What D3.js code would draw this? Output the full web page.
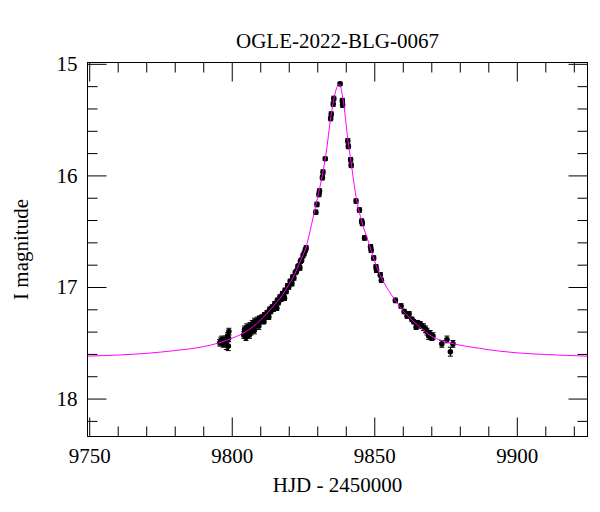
<!DOCTYPE html>
<html>
<head>
<meta charset="utf-8">
<script src="https://cdn.jsdelivr.net/npm/d3@7"></script>
<style>
  body { margin: 0; background: #fff; }
  text { font-family: "Liberation Serif", "Times New Roman", serif; fill: #000; }
</style>
</head>
<body>
<div id="lc_chart"></div>
<script>
var chartTitle = 'OGLE-2022-BLG-0067';
var xTitle = 'HJD - 2450000';
var yTitle = 'I magnitude';

// photometry
var hjd = [9795.8, 9796.2, 9796.6, 9797.0, 9797.4, 9797.8, 9798.1, 9798.5, 9798.8, 9799.0, 9798.9,
  9804.2, 9804.5, 9804.9, 9805.3, 9805.6, 9806.0, 9806.4, 9806.8, 9807.2, 9807.6, 9808.0, 9808.4,
  9808.9, 9809.3, 9809.7, 9810.1, 9810.6, 9811.0, 9811.5, 9811.9, 9812.4, 9812.8, 9813.3, 9813.7,
  9814.2, 9814.6, 9815.1, 9815.5, 9816.0, 9816.4, 9816.9, 9817.3, 9817.8, 9818.2, 9818.7, 9819.1,
  9819.6, 9820.0, 9820.5, 9820.9, 9821.4, 9821.8, 9822.3, 9822.7, 9823.2, 9823.6, 9824.1, 9824.5,
  9825.0, 9825.4, 9825.8, 9826.1,
  9805.0, 9806.2, 9807.9, 9809.5, 9811.3, 9813.0, 9815.8, 9818.5, 9821.1, 9823.9,
  9829.5, 9829.9, 9830.6, 9830.8, 9831.8, 9832.0, 9832.8, 9834.7, 9834.9, 9835.6, 9835.8,
  9838.0, 9838.8, 9838.9, 9840.7, 9840.9, 9841.7, 9841.9, 9843.6, 9844.8, 9845.6, 9845.8,
  9846.6, 9848.7, 9848.9, 9849.8, 9850.6, 9850.8, 9852.1, 9852.5,
  9857.4, 9859.4, 9860.5, 9861.5, 9862.2, 9863.2, 9863.8, 9864.7, 9865.2, 9866.1, 9866.6,
  9867.3, 9868.0, 9868.5, 9869.1, 9869.6, 9870.2, 9870.6, 9873.7, 9875.5, 9876.7, 9877.6];

var imag = [17.50, 17.48, 17.47, 17.51, 17.49, 17.47, 17.52, 17.44, 17.53, 17.40, 17.46,
  17.43, 17.38, 17.42, 17.36, 17.41, 17.39, 17.35, 17.40, 17.33, 17.37, 17.31, 17.35,
  17.30, 17.33, 17.28, 17.31, 17.27, 17.29, 17.25, 17.27, 17.23, 17.25, 17.20, 17.22,
  17.18, 17.20, 17.15, 17.17, 17.12, 17.14, 17.09, 17.11, 17.06, 17.08, 17.03, 17.04,
  16.99, 17.00, 16.95, 16.96, 16.91, 16.92, 16.87, 16.86, 16.82, 16.81, 16.77, 16.76,
  16.72, 16.70, 16.67, 16.65,
  17.45, 17.43, 17.39, 17.35, 17.31, 17.27, 17.19, 17.10, 16.97, 16.83,
  16.33, 16.26, 16.17, 16.14, 16.02, 15.97, 15.85, 15.49, 15.45, 15.36, 15.31,
  15.18, 15.33, 15.37, 15.69, 15.74, 15.86, 15.91, 16.23, 16.31, 16.41, 16.43,
  16.56, 16.64, 16.67, 16.74, 16.82, 16.85, 16.89, 16.94,
  17.12, 17.17, 17.22, 17.26, 17.24, 17.29, 17.31, 17.36, 17.32, 17.33, 17.35,
  17.36, 17.38, 17.40, 17.44, 17.42, 17.45, 17.44, 17.51, 17.47, 17.58, 17.51];

var ierr = [0.03, 0.03, 0.03, 0.03, 0.03, 0.03, 0.04, 0.03, 0.04, 0.03, 0.03,
  0.03, 0.03, 0.03, 0.03, 0.03, 0.03, 0.03, 0.03, 0.03, 0.03, 0.03, 0.03,
  0.03, 0.03, 0.02, 0.02, 0.02, 0.02, 0.02, 0.02, 0.02, 0.02, 0.02, 0.02,
  0.02, 0.02, 0.02, 0.02, 0.02, 0.02, 0.02, 0.02, 0.02, 0.02, 0.02, 0.02,
  0.02, 0.02, 0.02, 0.02, 0.02, 0.02, 0.02, 0.02, 0.02, 0.02, 0.02, 0.02,
  0.02, 0.02, 0.02, 0.02,
  0.03, 0.03, 0.03, 0.03, 0.02, 0.02, 0.02, 0.02, 0.02, 0.02,
  0.02, 0.02, 0.02, 0.02, 0.02, 0.02, 0.015, 0.02, 0.02, 0.02, 0.02,
  0.015, 0.02, 0.02, 0.02, 0.02, 0.02, 0.02, 0.02, 0.02, 0.02, 0.02,
  0.02, 0.02, 0.02, 0.02, 0.02, 0.02, 0.02, 0.02,
  0.02, 0.02, 0.02, 0.02, 0.02, 0.02, 0.02, 0.02, 0.02, 0.02, 0.02,
  0.03, 0.03, 0.03, 0.03, 0.03, 0.03, 0.03, 0.03, 0.03, 0.04, 0.03];

// model curve
var modelHjd = [9749.4, 9760, 9770, 9780, 9790, 9795, 9800, 9805, 9810, 9815, 9817, 9820, 9822,
  9824, 9826, 9828, 9830, 9832, 9833, 9834.8, 9836.3, 9837.7, 9839, 9840.8, 9841.8, 9843.6,
  9845.7, 9848, 9850, 9852, 9855, 9857.4, 9860, 9863.8, 9866, 9870, 9875, 9878, 9887, 9894,
  9900, 9910, 9924.8];
var modelMag = [17.62, 17.61, 17.595, 17.57, 17.535, 17.505, 17.46, 17.40, 17.30, 17.16, 17.10,
  16.98, 16.89, 16.77, 16.65, 16.44, 16.21, 15.97, 15.82, 15.47, 15.26, 15.18, 15.31, 15.69,
  15.87, 16.19, 16.42, 16.60, 16.76, 16.89, 17.03, 17.12, 17.21, 17.31, 17.36, 17.44, 17.49,
  17.51, 17.55, 17.575, 17.59, 17.605, 17.62];

var xMajor = [9750, 9800, 9850, 9900];
var xMinor = [9760, 9770, 9780, 9790, 9810, 9820, 9830, 9840, 9860, 9870, 9880, 9890, 9910, 9920];
var yMajor = [15, 16, 17, 18];
var yMinor = [15.2, 15.4, 15.6, 15.8, 16.2, 16.4, 16.6, 16.8, 17.2, 17.4, 17.6, 17.8, 18.2];

var width = 600, height = 512;
var margin = {top: 62.5, right: 12.5, bottom: 75.5, left: 87.5};
var plotW = width - margin.left - margin.right,
    plotH = height - margin.top - margin.bottom;

var svg = d3.select('#lc_chart').append('svg')
  .attr('width', width)
  .attr('height', height);

var g = svg.append('g')
  .attr('transform', 'translate(' + margin.left + ',' + margin.top + ')');

var xScale = d3.scaleLinear().domain([9749.4, 9924.8]).range([0, plotW]);
var yScale = d3.scaleLinear().domain([14.988, 18.34]).range([0, plotH]);

g.append('clipPath').attr('id', 'clip')
  .append('rect').attr('width', plotW).attr('height', plotH);

// axes, ticks pointing inward on all four sides
function addAxis(axis, tr, size, vals, labels) {
  var a = g.append('g')
    .attr('transform', tr)
    .call(axis.tickValues(vals).tickSizeInner(-size).tickSizeOuter(0)
      .tickFormat(labels ? d3.format('d') : ''));
  a.select('.domain').remove();
  a.selectAll('line').attr('stroke', '#000');
  return a;
}

addAxis(d3.axisBottom(xScale).tickPadding(12), 'translate(0,' + plotH + ')', 19, xMajor, true);
addAxis(d3.axisBottom(xScale), 'translate(0,' + plotH + ')', 10, xMinor, false);
addAxis(d3.axisTop(xScale), 'translate(0,0)', 19, xMajor, false);
addAxis(d3.axisTop(xScale), 'translate(0,0)', 10, xMinor, false);

addAxis(d3.axisLeft(yScale).tickPadding(10), 'translate(0,0)', 19, yMajor, true);
addAxis(d3.axisLeft(yScale), 'translate(0,0)', 10, yMinor, false);
addAxis(d3.axisRight(yScale), 'translate(' + plotW + ',0)', 19, yMajor, false);
addAxis(d3.axisRight(yScale), 'translate(' + plotW + ',0)', 10, yMinor, false);

svg.selectAll('.tick text')
  .style('font-family', '"Liberation Serif", serif')
  .style('font-size', '21px')
  .attr('fill', '#000');

g.append('rect')
  .attr('width', plotW)
  .attr('height', plotH)
  .attr('fill', 'none')
  .attr('stroke', '#000')
  .attr('stroke-width', 1);

// data points with error bars
var data = hjd.map(function(d, i) {
  return {t: d, m: imag[i], e: ierr[i]};
});

var pts = g.append('g').attr('clip-path', 'url(#clip)');

pts.selectAll('line.err')
  .data(data)
  .enter()
  .append('line')
  .attr('class', 'err')
  .attr('x1', function(d) { return xScale(d.t); })
  .attr('x2', function(d) { return xScale(d.t); })
  .attr('y1', function(d) { return yScale(d.m - d.e); })
  .attr('y2', function(d) { return yScale(d.m + d.e); })
  .attr('stroke', '#000')
  .attr('stroke-width', 1);

['lo', 'hi'].forEach(function(k) {
  pts.selectAll('line.cap' + k)
    .data(data)
    .enter()
    .append('line')
    .attr('class', 'cap' + k)
    .attr('x1', function(d) { return xScale(d.t) - 2.5; })
    .attr('x2', function(d) { return xScale(d.t) + 2.5; })
    .attr('y1', function(d) { return yScale(k == 'lo' ? d.m - d.e : d.m + d.e); })
    .attr('y2', function(d) { return yScale(k == 'lo' ? d.m - d.e : d.m + d.e); })
    .attr('stroke', '#000')
    .attr('stroke-width', 1);
});

pts.selectAll('circle')
  .data(data)
  .enter()
  .append('circle')
  .attr('cx', function(d) { return xScale(d.t); })
  .attr('cy', function(d) { return yScale(d.m); })
  .attr('r', 2.8)
  .attr('fill', '#000');

// model
var model = modelHjd.map(function(d, i) { return [d, modelMag[i]]; });

var line = d3.line()
  .x(function(d) { return xScale(d[0]); })
  .y(function(d) { return yScale(d[1]); })
  .curve(d3.curveMonotoneX);

g.append('path')
  .datum(model)
  .attr('clip-path', 'url(#clip)')
  .attr('d', line)
  .attr('fill', 'none')
  .attr('stroke', '#ff00ff')
  .attr('stroke-width', 1);

// titles
svg.append('text')
  .attr('x', margin.left + plotW / 2)
  .attr('y', 47.5)
  .attr('text-anchor', 'middle')
  .style('font-size', '21px')
  .text(chartTitle);

svg.append('text')
  .attr('x', margin.left + plotW / 2)
  .attr('y', 491.5)
  .attr('text-anchor', 'middle')
  .style('font-size', '21px')
  .text(xTitle);

svg.append('text')
  .attr('transform', 'translate(27.5,' + (margin.top + plotH / 2) + ') rotate(-90)')
  .attr('text-anchor', 'middle')
  .style('font-size', '21px')
  .text(yTitle);
</script>
</body>
</html>
